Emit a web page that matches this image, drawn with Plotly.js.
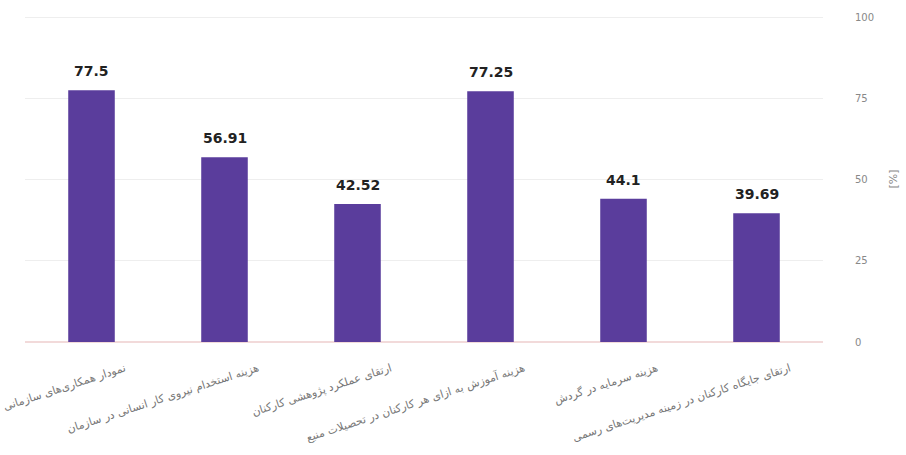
<!DOCTYPE html>
<html>
<head>
<meta charset="utf-8">
<script src="https://cdn.plot.ly/plotly-3.0.1.min.js"></script>
<style>html,body{margin:0;padding:0;background:#fff;}#chart{width:906px;height:455px;}</style>
</head>
<body>
<div id="chart"></div>
<script>
var categories = [
  "نمودار همکاری‌های سازمانی",
  "هزینه استخدام نیروی کار انسانی در سازمان",
  "ارتقای عملکرد پژوهشی کارکنان",
  "هزینه آموزش به ازای هر کارکنان در تحصیلات منبع",
  "هزینه سرمایه در گردش",
  "ارتقای جایگاه کارکنان در زمینه مدیریت‌های رسمی"
];
var values = [77.5, 56.91, 42.52, 77.25, 44.1, 39.69];
var valueLabels = ["77.5", "56.91", "42.52", "77.25", "44.1", "39.69"];
var yTicks = [0, 25, 50, 75, 100];

var bars = {
  type: 'bar',
  x: categories,
  y: values,
  marker: {color: '#5a3d9c'},
  hoverinfo: 'none'
};

// invisible companion trace carrying the (offset) category labels
var labelCarrier = {
  type: 'scatter',
  mode: 'markers',
  x: categories,
  y: values,
  xaxis: 'x2',
  marker: {opacity: 0},
  hoverinfo: 'none'
};

var annotations = categories.map(function (c, i) {
  return {
    x: c, y: values[i], xref: 'x', yref: 'y',
    text: valueLabels[i],
    showarrow: false,
    xanchor: 'center', yanchor: 'bottom',
    yshift: 9,
    font: {family: 'DejaVu Sans, sans-serif', size: 14, color: '#222', weight: 'bold'}
  };
});

var layout = {
  width: 906,
  height: 455,
  margin: {l: 25, r: 83, t: 16, b: 113},
  paper_bgcolor: '#fff',
  plot_bgcolor: '#fff',
  showlegend: false,
  bargap: 0.65,
  font: {family: 'DejaVu Sans, sans-serif', color: '#666'},
  annotations: annotations,
  xaxis: {
    type: 'category',
    range: [-0.5, 5.5],
    showticklabels: false,
    showgrid: false,
    zeroline: false,
    showline: false,
    ticks: ''
  },
  xaxis2: {
    type: 'category',
    overlaying: 'x',
    anchor: 'y',
    side: 'bottom',
    range: [-0.75, 5.25],
    tickangle: -18,
    tickfont: {family: 'DejaVu Sans, sans-serif', size: 11, color: '#777'},
    ticklabelstandoff: 17,
    showgrid: false,
    zeroline: false,
    showline: false,
    ticks: ''
  },
  yaxis: {
    side: 'right',
    range: [0, 100.4],
    tickvals: yTicks,
    ticktext: yTicks.map(String),
    tickfont: {size: 10, color: '#888'},
    ticklabelstandoff: 31,
    gridcolor: '#eeeeee',
    zeroline: true,
    zerolinecolor: '#f2dada',
    zerolinewidth: 1.5,
    showline: false,
    title: {text: '[%]', font: {size: 11, color: '#888'}, standoff: 16}
  }
};

Plotly.newPlot('chart', [bars, labelCarrier], layout, {displayModeBar: false, staticPlot: true});
</script>
</body>
</html>
